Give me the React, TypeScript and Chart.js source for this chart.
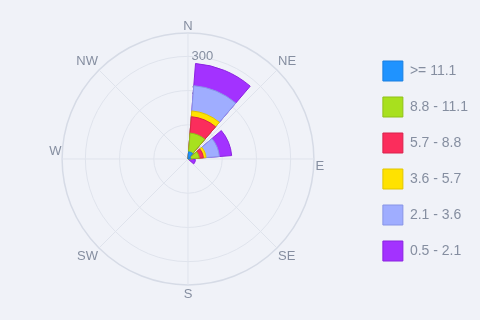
import { useEffect, useRef } from 'react';
import { Chart, registerables } from 'chart.js';

Chart.register(...registerables);

// Wind directions (angle axis) and speed bands (stack order, inner to outer)
const directions = ['N', 'NE', 'E', 'SE', 'S', 'SW', 'W', 'NW'];
const speedBands = ['>= 11.1', '8.8 - 11.1', '5.7 - 8.8', '3.6 - 5.7', '2.1 - 3.6', '0.5 - 2.1'];

// Frequency per direction for each speed band
const band111 = [21, 8, 0, 0, 0, 0, 0, 0];
const band88 = [55, 25, 0, 0, 0, 0, 0, 0];
const band57 = [48, 12, 0, 0, 0, 0, 0, 0];
const band36 = [17, 8, 0, 0, 0, 0, 0, 0];
const band21 = [74, 39, 0, 0, 0, 0, 0, 0];
const band05 = [65, 36, 22, 0, 0, 0, 0, 0];

// Radial axis
const radialMax = 368;
const radialTicks = [100, 200, 300];

const bandColors = ['#1f93ff', '#a8e01e', '#fb2d5c', '#ffe200', '#9fadff', '#a332ff'];
const bandBorders = ['#1a7fe0', '#8fc018', '#d8224c', '#e0c500', '#8794e6', '#8a22e0'];

const SECTOR = 36;
const GAP = 9;

export default function App() {
  const ref = useRef<HTMLCanvasElement | null>(null);

  useEffect(() => {
    if (!ref.current) return;
    const bands = [band111, band88, band57, band36, band21, band05];
    // cumulative stack values
    const cumulative: number[][] = [];
    bands.forEach((b, i) => {
      cumulative.push(b.map((v, d) => v + (i > 0 ? cumulative[i - 1][d] : 0)));
    });
    // interleave gap entries: gap, bar, gap, bar, ..., bar, gap
    const entryLabels: string[] = [''];
    directions.forEach((d) => {
      entryLabels.push(d);
      entryLabels.push('');
    });
    const isBar = (i: number) => i % 2 === 1;
    const entryAngle = (i: number) => {
      if (isBar(i)) return SECTOR;
      if (i === 0 || i === directions.length * 2) return GAP / 2;
      return GAP;
    };

    const datasets = speedBands.map((label, bi) => {
      const data: number[] = [0];
      cumulative[bi].forEach((v) => {
        data.push(v);
        data.push(0);
      });
      return {
        label,
        data,
        backgroundColor: bandColors[bi],
        borderColor: bandBorders[bi],
        borderWidth: (ctx: any) => (isBar(ctx.dataIndex) && bands[bi][(ctx.dataIndex - 1) / 2] > 0 ? 1 : 0),
        angle: (ctx: any) => entryAngle(ctx.dataIndex),
      };
    });

    const textColor = '#858ea0';
    const fam = "'Liberation Sans', Arial, Helvetica, sans-serif";
    const chart = new Chart(ref.current, {
      type: 'polarArea',
      data: { labels: entryLabels, datasets: datasets as any },
      options: {
        responsive: false,
        animation: false,
        layout: { padding: { top: 18, bottom: 16, left: 10, right: 2 } },
        scales: {
          r: {
            labels: directions,
            min: 0,
            max: radialMax,
            startAngle: 0,
            grid: {
              circular: true,
              color: (ctx: any) => (ctx.tick && ctx.tick.value === radialMax ? '#d6dbe6' : '#dfe3ec'),
              lineWidth: (ctx: any) => (ctx.tick && ctx.tick.value === radialMax ? 1.5 : 1),
            },
            angleLines: { display: true, color: '#dfe3ec', lineWidth: 1 },
            pointLabels: {
              display: true,
              centerPointLabels: false,
              padding: (ctx: any) => (ctx.index === 0 ? -10 : ctx.index === 6 ? -8 : -7),
              color: textColor,
              font: { size: 13, family: fam },
              callback: (label: string) => (label === 'E' ? ['', 'E'] : label === 'W' ? ['W', ''] : label),
            },
            ticks: {
              stepSize: 100,
              showLabelBackdrop: false,
              color: textColor,
              font: { size: 13, family: fam },
              callback: (v: any) => (radialTicks.includes(Number(v)) ? '        ' + v : ''),
            },
          },
        },
        plugins: {
          tooltip: { enabled: false },
          legend: {
            position: 'right',
            align: 'center',
            onClick: () => {},
            labels: {
              boxWidth: 20,
              boxHeight: 20,
              padding: 16,
              color: textColor,
              font: { size: 14, family: fam },
              generateLabels: (c: any) =>
                c.data.datasets.map((ds: any, i: number) => ({
                  text: ds.label,
                  fillStyle: bandColors[i],
                  strokeStyle: bandBorders[i],
                  lineWidth: 1,
                  hidden: false,
                  datasetIndex: i,
                  fontColor: textColor,
                })),
            },
          },
        },
      } as any,
    });
    return () => chart.destroy();
  }, []);

  return (
    <div style={{ position: 'fixed', left: 0, top: 0, width: 480, height: 320, background: '#f0f2f8' }}>
      <canvas ref={ref} width={480} height={320} />
    </div>
  );
}
